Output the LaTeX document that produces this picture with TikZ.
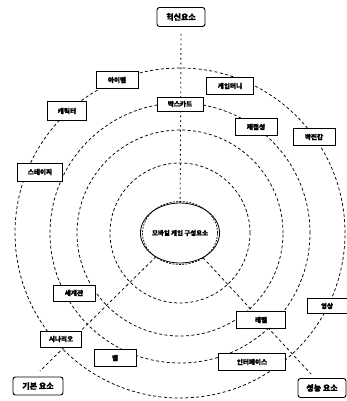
\documentclass[tikz,border=0pt]{standalone}
\usepackage{fontspec}
\newfontfamily\kr[FakeBold=1.6]{Noto Sans CJK KR}
\usetikzlibrary{shapes.geometric}
\begin{document}
\begin{tikzpicture}[x=1pt,y=-1pt,
  ring/.style={draw=black,line width=0.75pt,dash pattern=on 3pt off 2.4pt},
  link/.style={draw=black,line width=0.75pt,dash pattern=on 3pt off 2.6pt},
  dotline/.style={draw=black,line width=0.9pt,dash pattern=on 1.6pt off 3.2pt},
  elem/.style={draw=black,fill=white,line width=0.8pt,inner sep=0pt,
    font=\kr\bfseries\fontsize{6.6}{7}\selectfont},
  group/.style={elem,rounded corners=2.5pt,line width=0.9pt,
    font=\kr\bfseries\fontsize{8}{9}\selectfont}]
\useasboundingbox (0,0) rectangle (347,401);
\coordinate (o) at (180,233);

% concentric dashed rings
\foreach \r in {165,130,103,70}
  \draw[ring] (o) circle[radius=\r pt];

% end points of the two lower spokes
\coordinate (gEnd) at (40,371);
\coordinate (sEnd) at (311,374);

% group labels
\node[group,minimum width=48pt,minimum height=19pt] (hs) at (181,17) {혁신요소};
\node[group,minimum width=50pt,minimum height=18pt] (gibon) at (38,386) {기본 요소};
\node[group,minimum width=48pt,minimum height=19pt] (sn) at (322,388) {성능 요소};

% spokes from the centre
\draw[dotline] ([yshift=-7pt]hs.south) -- (o);
\draw[link] (o) -- (gEnd);
\draw[link] (o) -- (sEnd);

% centre
\node[ellipse,draw=black,fill=white,line width=0.8pt,inner sep=0pt,
  minimum width=72pt,minimum height=60pt,
  font=\kr\bfseries\fontsize{6.4}{7}\selectfont] (ctr) at (o) {모바일 게임 구성요소};
\draw[black,line width=0.7pt,dash pattern=on 2pt off 1.3pt] (o) ellipse[x radius=37.5pt,y radius=31.5pt];

% element boxes
\node[elem,minimum width=42pt,minimum height=17pt] (item) at (117,80) {아이템};
\node[elem,minimum width=47pt,minimum height=17pt] (money) at (230,86) {게임머니};
\node[elem,minimum width=39pt,minimum height=19pt] (char) at (67,111) {캐릭터};
\node[elem,minimum width=46pt,minimum height=14pt] (bx) at (180,104) {박스카드};
\node[elem,minimum width=42pt,minimum height=17pt] (jg) at (256,127) {재접성};
\node[elem,minimum width=42pt,minimum height=17pt] (bj) at (314,137) {박진감};
\node[elem,minimum width=45pt,minimum height=18pt] (stage) at (40,172) {스테이지};
\node[elem,minimum width=42pt,minimum height=16pt] (world) at (74,293) {세계관};
\node[elem,minimum width=41pt,minimum height=16pt] (scen) at (61,339) {시나리오};
\node[elem,minimum width=42pt,minimum height=17pt] (map) at (115,358) {맵};
\node[elem,minimum width=49pt,minimum height=17pt] (level) at (261,320) {레벨};
\node[elem,minimum width=67pt,minimum height=17pt] (ui) at (252,362) {인터페이스};
\node[elem,minimum width=40pt,minimum height=15pt] (video) at (327,306) {영상};
\end{tikzpicture}
\end{document}
